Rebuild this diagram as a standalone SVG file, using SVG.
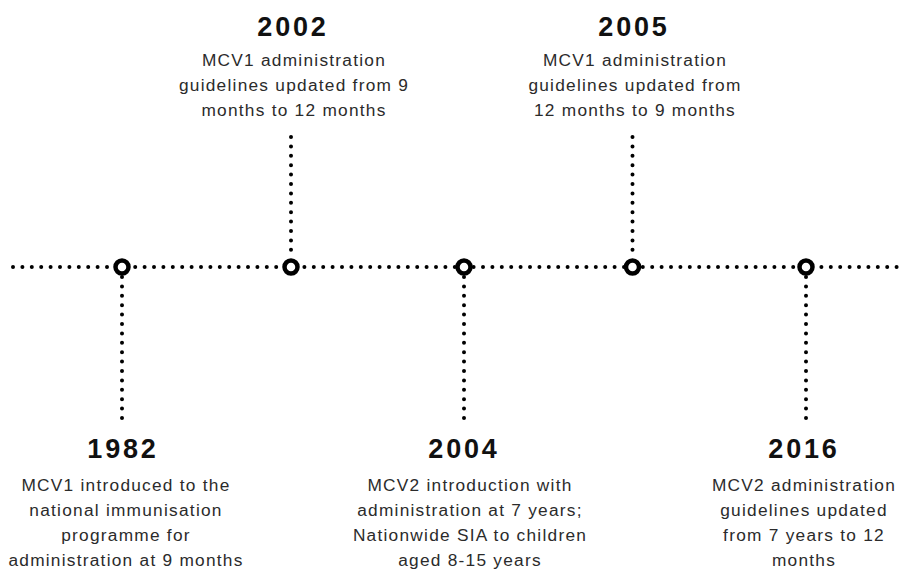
<svg xmlns="http://www.w3.org/2000/svg" width="904" height="569" viewBox="0 0 904 569">
<style>
.dots{fill:none;stroke:#000;stroke-width:4;stroke-linecap:round;stroke-dasharray:0 9.4}
.node circle{fill:#fff;stroke:#000;stroke-width:4.5}
.year{font-family:"Liberation Sans",Arial,sans-serif;font-weight:bold;font-size:27px;letter-spacing:2.8px;fill:#111;text-anchor:middle}
.body{font-family:"Liberation Sans",Arial,sans-serif;font-size:17.3px;letter-spacing:1.25px;fill:#2b2b2b;text-anchor:middle}
</style>
<rect width="904" height="569" fill="#fff"/>
<g id="connectors">
<line class="dots" x1="13" y1="267" x2="900" y2="267"/>
<line class="dots" x1="122" y1="277" x2="122" y2="419"/>
<line class="dots" x1="291" y1="137" x2="291" y2="257"/>
<line class="dots" x1="464" y1="277" x2="464" y2="419"/>
<line class="dots" x1="632.5" y1="137" x2="632.5" y2="257"/>
<line class="dots" x1="806" y1="277" x2="806" y2="419"/>
</g>
<g id="n1982" class="node">
<circle cx="122" cy="267" r="6.5"/>
<text class="year" x="123" y="458">1982</text>
<text class="body" x="126" y="491">MCV1 introduced to the</text>
<text class="body" x="126" y="516">national immunisation</text>
<text class="body" x="126" y="541">programme for</text>
<text class="body" x="126" y="566">administration at 9 months</text>
</g>
<g id="n2002" class="node">
<circle cx="291" cy="267" r="6.5"/>
<text class="year" x="293" y="36">2002</text>
<text class="body" x="294" y="66">MCV1 administration</text>
<text class="body" x="294" y="91">guidelines updated from 9</text>
<text class="body" x="294" y="116">months to 12 months</text>
</g>
<g id="n2004" class="node">
<circle cx="464" cy="267" r="6.5"/>
<text class="year" x="464" y="458">2004</text>
<text class="body" x="470" y="491">MCV2 introduction with</text>
<text class="body" x="470" y="516">administration at 7 years;</text>
<text class="body" x="470" y="541">Nationwide SIA to children</text>
<text class="body" x="470" y="566">aged 8-15 years</text>
</g>
<g id="n2005" class="node">
<circle cx="632.5" cy="267" r="6.5"/>
<text class="year" x="634" y="36">2005</text>
<text class="body" x="635" y="66">MCV1 administration</text>
<text class="body" x="635" y="91">guidelines updated from</text>
<text class="body" x="635" y="116">12 months to 9 months</text>
</g>
<g id="n2016" class="node">
<circle cx="806" cy="267" r="6.5"/>
<text class="year" x="804" y="458">2016</text>
<text class="body" x="804" y="491">MCV2 administration</text>
<text class="body" x="804" y="516">guidelines updated</text>
<text class="body" x="804" y="541">from 7 years to 12</text>
<text class="body" x="804" y="566">months</text>
</g>
</svg>
